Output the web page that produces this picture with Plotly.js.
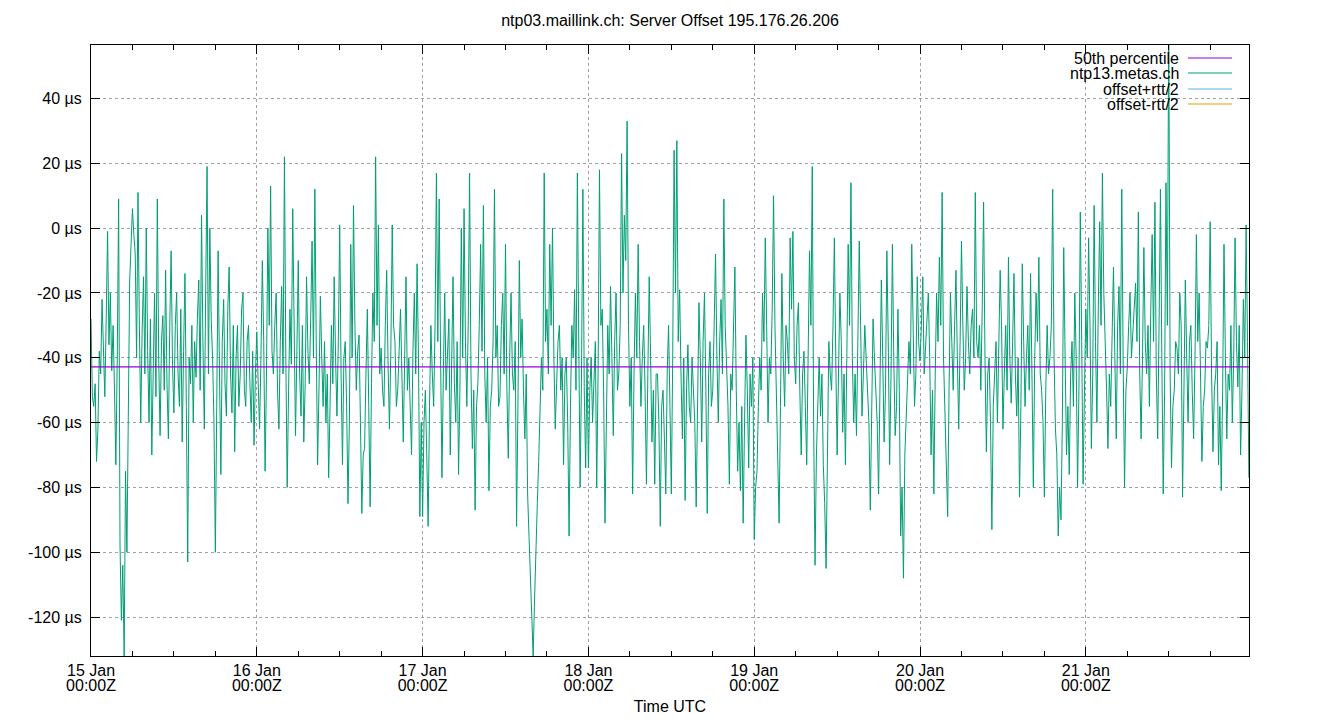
<!DOCTYPE html>
<html>
<head>
<meta charset="utf-8">
<script src="https://cdn.plot.ly/plotly-3.0.1.min.js"></script>
<style>html,body{margin:0;padding:0;background:#fff;}#chart{width:1340px;height:720px;}</style>
</head>
<body>
<div id="chart"></div>
<script>
// ---- data (offset in microseconds, one sample every 12 minutes, one array per day) ----
const days = ['2024-01-15','2024-01-16','2024-01-17','2024-01-18','2024-01-19','2024-01-20','2024-01-21'];
const sampleMinutes = 12;
const d15 = [-28,-52,-55,-48,-72,-62,-38,-45,-22,-35,-52,-28,-1,-36,-20,-44,-30,-50,-73,-40,9,-98,-121,-104,-132,-75,-100,-58,-16,-5,6,-2,-8,-40,11,-30,-60,-32,-15,-45,0,-38,-60,-28,-70,-45,-20,-52,9,-40,-64,-35,-27,-50,-13,-48,-65,-30,-7,-42,-57,-30,-20,-45,-55,-25,-66,-38,-14,-55,-103,-40,-48,-30,-60,-35,-46,-28,-16,-50,4,-35,-62,-20,19,-45,0,-28,-40,-60,-100,-55,-7,-45,-76,-35,-22,-48,-58,-25,-12,-45,-57,-30,-69,-40,-30,-55,-45,-25,-20,-50,-55,-35,-30,-48,-60,-38,-67,-45];
const d16 = [-32,-48,-62,-40,-10,-35,-75,-45,0,-30,13,-38,-45,-30,-20,-50,-62,-35,-18,-45,22,-40,-80,-50,-25,-42,6,-30,-64,-38,-10,-45,-58,-30,-66,-48,-15,-38,-48,-28,-4,-40,12,-35,-73,-50,-21,-40,-55,-35,-60,-45,-77,-55,-30,-48,-15,-40,-58,-35,1,-45,-73,-40,-35,-55,-85,-60,-5,-40,7,-30,-50,-38,-33,-60,-88,-70,-68,-45,-25,-55,-86,-48,-20,-35,22,-30,1,-45,-37,-50,-55,-30,-13,-42,-62,-38,1,-30,-35,-55,-50,-38,-25,-45,-66,-40,-15,-50,-40,-55,-70,-38,-20,-45,-11,-40,-89,-60];
const d17 = [-89,-60,-50,-70,-92,-55,-30,-45,-55,-30,17,-35,9,-40,-77,-45,-20,-50,-35,-28,-70,-40,-15,-48,-60,-35,-76,-50,0,-40,6,-35,-55,-30,17,-45,-68,-50,-87,-55,-48,-30,-5,-38,7,-45,-60,-40,-81,-55,-50,-35,12,-40,-30,-55,-52,-30,-20,-45,-5,-50,-71,-40,-20,-45,-50,-35,-92,-55,-10,-40,-28,-50,-65,-45,-82,-95,-109,-121,-132,-115,-103,-85,-72,-55,-40,-50,17,-35,-25,-45,-5,-30,0,-40,-62,-48,-35,-30,-50,-40,-73,-45,-40,-60,-95,-55,-30,-40,-19,-50,17,-35,-80,-45,12,-50,-74,-40];
const d18 = [-74,-50,-40,-60,-50,-35,-80,-45,18,-30,-25,-50,-91,-55,-30,-45,-18,-40,-64,-35,-20,-50,-45,-30,23,-20,4,-10,33,-30,-55,-40,-82,-45,-20,-40,-5,-35,-55,-40,-30,-50,-79,-45,-15,-40,-66,-50,-79,-45,-45,-60,-92,-55,-50,-65,-82,-45,-30,-55,-82,-40,24,-20,27,-35,-19,-45,-65,-40,-84,-50,-36,-55,-60,-40,-50,-60,-86,-45,-23,-40,-66,-35,-20,-50,-88,-45,-35,-55,-50,-30,-8,-40,-60,-35,-22,-45,9,-30,-40,-55,-79,-45,-50,-35,-12,-50,-75,-60,-81,-55,-91,-60,-33,-50,-74,-45,-55,-40];
const d19 = [-96,-80,-75,-55,-40,-50,-20,-35,-3,-30,-60,-40,-45,-25,10,-30,-50,-65,-91,-55,-14,-40,-55,-30,-35,-45,-3,-25,-1,-40,-48,-30,-23,-50,-70,-45,-38,-55,-73,-40,-7,-30,19,-60,-104,-70,-50,-40,-58,-45,-73,-85,-105,-60,-35,-45,-50,-30,-3,-40,-70,-45,-20,-35,-63,-45,-73,-40,-5,-30,14,-40,-60,-45,-64,-35,-4,-30,-58,-45,-30,-40,-50,-60,-87,-55,-28,-40,-50,-60,-82,-45,-16,-40,-66,-50,-7,-35,-73,-45,-5,-40,-64,-55,-25,-50,-95,-80,-108,-70,-60,-50,-35,-45,-5,-30,-55,-45,-15,-35];
const d20 = [-41,-30,-15,-45,-35,-25,-20,-40,-70,-50,-82,-45,-20,-35,-9,-30,11,-40,-60,-70,-89,-50,-20,-35,-50,-30,-13,-40,-62,-35,-4,-30,-50,-40,-18,-35,-45,-30,-25,-40,11,-35,-40,-30,-50,-25,8,-40,-69,-45,-40,-60,-93,-55,-45,-35,-60,-40,-13,-30,-62,-45,-30,-50,-9,-40,-54,-35,-14,-45,-58,-40,-83,-55,-11,-35,-55,-40,-30,-50,-14,-45,-80,-40,-20,-35,-9,-45,-50,-60,-83,-50,-30,-45,-40,-30,12,-40,-62,-70,-95,-80,-90,-60,-6,-40,-70,-55,-76,-45,-35,-55,-20,-40,-80,-50,5,-35,-79,-50];
const d21 = [-25,-40,-3,-30,-68,-45,7,-35,-60,-25,2,-30,17,-20,-40,-50,-68,-45,-55,-35,-12,-40,-65,-30,-18,-45,12,-40,-80,-50,-43,-30,-20,-40,-33,-25,-17,-35,5,-45,-65,-40,-6,-35,-45,-30,-55,-25,-2,-35,8,-45,-65,-30,12,-40,-82,-50,14,-30,65,-45,-74,-55,-50,-35,-37,-45,-20,-30,-83,-50,-16,-40,-60,-35,-30,-50,-65,-40,-2,-35,-20,-45,-72,-55,-50,-35,-37,-30,2,-45,-69,-50,-45,-35,-73,-55,-81,-50,-5,-40,-65,-45,-50,-30,-60,-40,-3,-35,-49,-30,-70,-50,-22,-40,1,-35,-77];
const medianOffset = -42.8;
const seriesNames = ['50th percentile','ntp13.metas.ch','offset+rtt/2','offset-rtt/2'];
const seriesColors = ['#9400d3','#009e73','#56b4e9','#e69f00'];
const yTickVals = [-120,-100,-80,-60,-40,-20,0,20,40];
const yTickText = ['-120 µs','-100 µs','-80 µs','-60 µs','-40 µs','-20 µs','0 µs','20 µs','40 µs'];
const titleText = 'ntp03.maillink.ch: Server Offset 195.176.26.206';
const xTitle = 'Time UTC';
const xRange = ['2024-01-15 00:00:00','2024-01-21 23:37:00'];
const yRange = [-132, 56.5];

// ---- build series ----
const dayValues = [d15,d16,d17,d18,d19,d20,d21];
const xs = [], ys = [];
function fmt(ms){ return new Date(ms).toISOString().replace('T',' ').slice(0,19); }
dayValues.forEach((arr, di) => {
  const base = Date.parse(days[di] + 'T00:00:00Z');
  arr.forEach((v, i) => { xs.push(fmt(base + i*sampleMinutes*60000)); ys.push(v); });
});

const FONT = 'Liberation Sans, Arial, sans-serif';
const FS = 16;
const traces = [
  {x: [xs[0], xs[xs.length-1]], y: [medianOffset, medianOffset], mode: 'lines', xaxis: 'x2',
   line: {color: seriesColors[0], width: 1.2}, name: seriesNames[0], showlegend: false, hoverinfo: 'skip'},
  {x: xs, y: ys, mode: 'lines', line: {color: seriesColors[1], width: 1},
   name: seriesNames[1], showlegend: false, hoverinfo: 'skip'}
];

// legend drawn gnuplot-style (text right, sample line right of it)
const legTextX = (1181-91)/1158, legLineX0 = (1188-91)/1158, legLineX1 = (1232-91)/1158;
const legRowsPx = [58, 73, 89, 104];
const shapes = [
  {type:'rect', xref:'paper', yref:'paper', x0:(1045-91)/1158, x1:(1241-91)/1158,
   y0:(656-112)/611, y1:1, fillcolor:'#ffffff', line:{width:0}, layer:'between'}
];
const annotations = [];
seriesNames.forEach((n, k) => {
  const yp = (656 - legRowsPx[k]) / 611;
  annotations.push({xref:'paper', yref:'paper', x:legTextX, y:yp, xanchor:'right', yanchor:'middle',
    text:n, showarrow:false, font:{family:FONT, size:FS, color:'#000'}});
  shapes.push({type:'line', xref:'paper', yref:'paper', x0:legLineX0, x1:legLineX1, y0:yp, y1:yp,
    line:{color:seriesColors[k], width:1.2}, layer:'above'});
});

const axisCommon = {
  showline: true, linecolor: '#000', linewidth: 1, mirror: 'ticks',
  ticks: 'inside', ticklen: 9, tickcolor: '#000', tickwidth: 1,
  showgrid: true, gridcolor: '#a0a0a0', gridwidth: 1, griddash: '3px,3px',
  zeroline: false, tickfont: {family: FONT, size: FS, color: '#000'}
};

const layout = {
  width: 1340, height: 720,
  margin: {l: 91, r: 91, t: 45, b: 64, autoexpand: false},
  paper_bgcolor: '#fff', plot_bgcolor: '#fff',
  showlegend: false,
  title: {text: titleText, font: {family: FONT, size: FS, color: '#000'},
          x: 0.5, xanchor: 'center', y: 1 - 20/720, yref: 'container', yanchor: 'middle'},
  xaxis: Object.assign({}, axisCommon, {
    type: 'date', range: xRange, tickmode: 'linear', tick0: '2024-01-15', dtick: 86400000,
    tickformat: '%d %b',
    minor: {tickmode: 'linear', tick0: '2024-01-15', dtick: 21600000, ticks: 'inside', ticklen: 5,
            tickcolor: '#000', showgrid: false},
    title: {text: xTitle, font: {family: FONT, size: FS, color: '#000'}, standoff: 22}
  }),
  xaxis2: {
    overlaying: 'x', anchor: 'y', side: 'bottom', type: 'date', range: xRange,
    tickmode: 'linear', tick0: '2024-01-15', dtick: 86400000, tickformat: '%H:%MZ',
    ticks: '', showgrid: false, showline: false, zeroline: false, ticklabelstandoff: 18,
    tickfont: {family: FONT, size: FS, color: '#000'}
  },
  yaxis: Object.assign({}, axisCommon, {
    range: yRange, tickmode: 'array', tickvals: yTickVals, ticktext: yTickText,
    ticklabelstandoff: 5
  }),
  shapes: shapes, annotations: annotations,
  hovermode: false
};

Plotly.newPlot('chart', traces, layout, {staticPlot: true, displayModeBar: false});
</script>
</body>
</html>
